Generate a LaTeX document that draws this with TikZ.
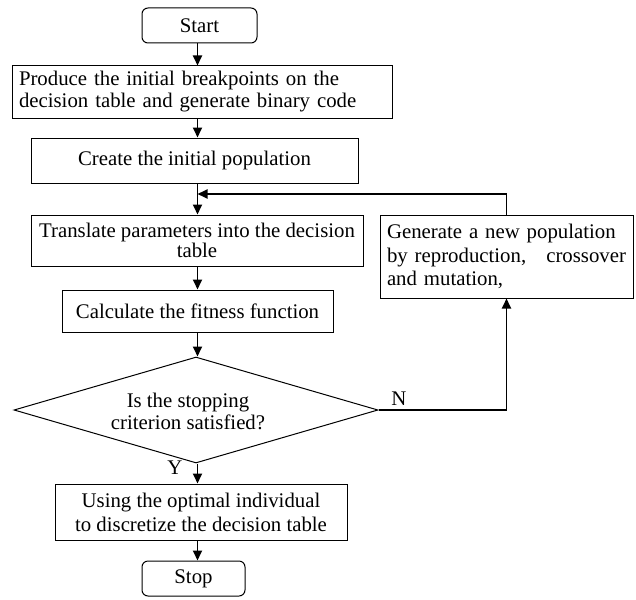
\documentclass[tikz,border=0pt]{standalone}
\usepackage{fontspec}
\setmainfont{Liberation Serif}
\usetikzlibrary{arrows.meta,shapes.geometric}

\tikzset{
  box/.style={draw, line width=1pt, rectangle, inner sep=0pt, anchor=center,
    font=\fontsize{20.8}{22}\selectfont, align=center},
  term/.style={box, rounded corners=6pt},
  flow/.style={line width=1.8pt, -{Triangle[length=10pt,width=9pt]}},
  plain/.style={line width=1.5pt},
  lbl/.style={font=\fontsize{20.8}{22}\selectfont, inner sep=0pt},
}

\begin{document}
\begin{tikzpicture}[x=1pt,y=-1pt]
\useasboundingbox (0,0) rectangle (636,599);

% main column
\node[term, minimum width=115pt, minimum height=35pt] (start) at (199.5,25.5) {Start};
\node[box, minimum width=380pt, minimum height=52pt, text width=366pt, align=left]
  (init) at (202,92) {Produce the initial breakpoints on the\\decision table and generate binary code};
\node[box, minimum width=327pt, minimum height=45pt] (pop) at (194.5,160.5) {Create the initial population};
\node[box, minimum width=332pt, minimum height=51pt,
  font=\fontsize{20.8}{20}\selectfont] (trans) at (197,240.5) {Translate parameters into the decision\\table};
\node[box, minimum width=271pt, minimum height=42pt] (fit) at (197.5,311) {Calculate the fitness function};
\node[draw, line width=1pt, diamond, inner sep=0pt, minimum width=364pt, minimum height=106pt]
  (test) at (196,410) {};
\node[lbl, align=center] (testtxt) at (188,411) {Is the stopping\\ criterion satisfied?};
\node[box, minimum width=292pt, minimum height=56pt,
  font=\fontsize{20.8}{24}\selectfont] (final) at (201,512) {Using the optimal individual\\to discretize the decision table};
\node[term, minimum width=103pt, minimum height=35pt] (stop) at (193.5,578.5) {Stop};

% side box
\node[box, minimum width=253pt, minimum height=83pt, text width=239pt, align=left,
  font=\fontsize{20.8}{23.5}\selectfont]
  (gen) at (506.5,256.5) {Generate a new population\\by reproduction,\hfill crossover\\and mutation,};

% helper points
\coordinate (axis) at (197.5,0);
\coordinate (merge) at (197.5,194);

% main arrows
\draw[flow] (start.south -| axis) -- (init.north -| axis);
\draw[flow] (init.south -| axis) -- (pop.north -| axis);
\draw[flow] (pop.south -| axis) -- (trans.north -| axis);
\draw[flow] (trans.south -| axis) -- (fit.north -| axis);
\draw[flow] (fit.south -| axis) -- (test.north -| axis);
\draw[flow] (test.south -| axis) -- (final.north -| axis);
\draw[flow] (final.south -| axis) -- (stop.north -| axis);

% loop back
\draw[flow] (gen.north) |- (merge);
\draw[flow] (test.east) -| (gen.south);

% branch labels
\node[lbl] (nlab) at (399,399) {N};
\node[lbl] (ylab) at (175,468) {Y};
\end{tikzpicture}
\end{document}
